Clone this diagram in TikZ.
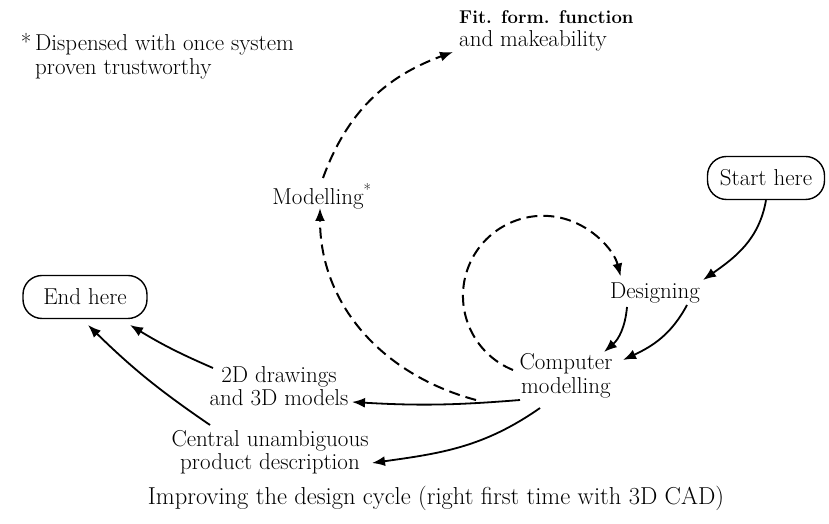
\documentclass[tikz,border=0pt]{standalone}
\usetikzlibrary{arrows.meta,calc}
\begin{document}
\begin{tikzpicture}[x=1pt,y=1pt,
  every node/.style={font=\fontsize{23}{23.5}\selectfont, inner sep=3pt},
  lbl/.style={align=center},
  pill/.style={draw, line width=1.4pt, rounded corners=19pt, minimum height=43pt, inner xsep=6pt},
  arr/.style={line width=1.8pt, -{Latex[length=13pt,width=10pt]}},
  darr/.style={line width=2pt, dash pattern=on 11pt off 6pt, -{Latex[length=13pt,width=10pt]}}
]
\useasboundingbox (0,0) rectangle (829,524);
% nodes
\node[pill, minimum width=117pt] (start) at (766,346) {Start here};
\node[pill, minimum width=124pt] (endn) at (85,227) {End here};
\node (des) at (655,231) {Designing};
\node[lbl] (comp) at (566,148) {Computer\\modelling};
\node[lbl] (twod) at (279,138) {2D drawings\\and 3D models};
\node[lbl] (central) at (270,72) {Central unambiguous\\product description};
\node (model) at (322,328) {Modelling\textsuperscript{*}};
\node[align=left, anchor=west] (fit) at (456,493) {{\fontsize{18.5}{20}\selectfont\textbf{Fit. form. function}}\\and makeability};
\node[align=left, anchor=west] (note) at (32,468) {\llap{*\,}Dispensed with once system\\proven trustworthy};
\node[font=\fontsize{24.5}{26}\selectfont] (caption) at (436,26) {Improving the design cycle (right first time with 3D CAD)};
% solid connectors
\draw[arr] (start.south) to[out=-100,in=35] ($(des.center)+(48,13)$);
\draw[arr] ($(des.center)+(-28,-14)$) to[bend left=22] ($(comp.center)+(38,24)$);
\draw[arr] ($(des.center)+(32,-12)$) to[out=-118,in=25] ($(comp.center)+(57,16)$);
\draw[arr] ($(comp.center)+(-46,-24)$) to[bend left=4] ($(twod.center)+(73,-16)$);
\draw[arr] ($(comp.center)+(-26,-32)$) to[out=215,in=8] ($(central.center)+(102,-11)$);
\draw[arr] ($(twod.center)+(-66,18)$) to[bend left=4] ($(endn.center)+(45,-28)$);
\draw[arr] ($(central.center)+(-60,27)$) to[bend left=5] ($(endn.center)+(3,-28)$);
% dashed connectors
\draw[darr] ($(comp.center)+(-90,-24)$) to[out=165,in=-90] ($(model.center)+(-2,-12)$);
\draw[darr] ($(model.center)+(1,18)$) to[out=70,in=-160] ($(fit.west)+(-3,-21)$);
\draw[darr] ($(comp.center)+(-53,6)$) arc[start angle=248, end angle=14, radius=80];
\end{tikzpicture}
\end{document}
